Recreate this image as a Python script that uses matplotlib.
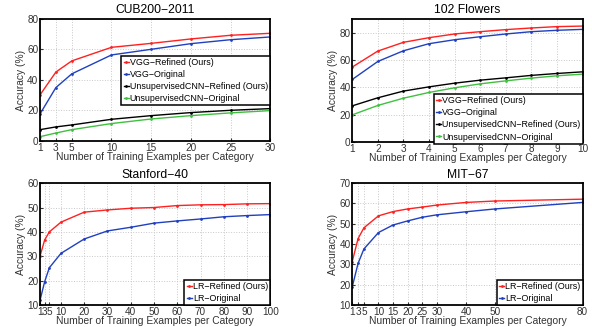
import matplotlib
matplotlib.use('Agg')
import matplotlib.pyplot as plt

# CUB200-2011
cub_x = [1, 3, 5, 10, 15, 20, 25, 30]
cub_vgg_ref = [30.2, 45.2, 52.5, 61.4, 64.0, 66.9, 69.3, 70.6]
cub_vgg_org = [17.7, 35.0, 44.0, 56.4, 60.1, 63.8, 66.4, 68.2]
cub_uns_ref = [7.4, 9.2, 10.5, 14.2, 16.6, 18.6, 20.1, 21.2]
cub_uns_org = [2.8, 5.2, 7.4, 11.4, 14.4, 16.6, 18.4, 19.9]

# 102 Flowers
flw_x = [1, 2, 3, 4, 5, 6, 7, 8, 9, 10]
flw_vgg_ref = [54.8, 66.5, 72.9, 76.3, 79.0, 80.7, 82.2, 83.4, 84.4, 84.8]
flw_vgg_org = [45.7, 58.9, 66.7, 71.9, 74.8, 77.0, 79.0, 80.7, 81.7, 82.4]
flw_uns_ref = [26.4, 32.3, 37.2, 40.3, 43.0, 45.2, 46.9, 48.7, 50.1, 51.3]
flw_uns_org = [19.8, 26.7, 32.0, 36.2, 39.6, 42.5, 44.7, 46.7, 48.4, 49.6]

# Stanford-40
stf_x = [1, 3, 5, 10, 20, 30, 40, 50, 60, 70, 80, 90, 100]
stf_ref = [30.1, 36.7, 40.0, 44.0, 48.1, 49.0, 49.7, 50.0, 50.8, 51.1, 51.2, 51.5, 51.6]
stf_org = [12.0, 19.6, 25.3, 31.2, 37.1, 40.4, 41.9, 43.6, 44.5, 45.3, 46.2, 46.7, 47.1]

# MIT-67
mit_x = [1, 3, 5, 10, 15, 20, 25, 30, 40, 50, 80]
mit_ref = [31.4, 42.7, 48.0, 53.9, 56.0, 57.3, 58.2, 59.2, 60.5, 61.2, 62.1]
mit_org = [19.0, 30.5, 37.6, 45.7, 49.4, 51.4, 53.2, 54.4, 55.9, 57.3, 60.5]

plt.rcParams.update({
    'font.family': ['Liberation Sans', 'DejaVu Sans'],
    'axes.linewidth': 1.3,
    'axes.edgecolor': 'black',
    'xtick.direction': 'in',
    'ytick.direction': 'in',
    'xtick.major.size': 2,
    'ytick.major.size': 2,
    'xtick.labelsize': 7.2,
    'ytick.labelsize': 7.2,
})

RED = '#ff2020'
BLUE = '#2040c0'
BLACK = 'black'
GREEN = '#40c040'

fig = plt.figure(figsize=(5.92, 3.27), dpi=100, facecolor='white')
ax1 = fig.add_axes([0.0676, 0.569, 0.389, 0.373])
ax2 = fig.add_axes([0.595, 0.566, 0.389, 0.376])
ax3 = fig.add_axes([0.0676, 0.067, 0.389, 0.373])
ax4 = fig.add_axes([0.595, 0.067, 0.389, 0.373])


def line(ax, x, y, c, label):
    ax.plot(x, y, color=c, linewidth=1.0, marker='o', markersize=2,
            markeredgewidth=0, label=label)


def style(ax, title, xlim, ylim, xticks, yticks, legend_kw):
    ax.set_xlim(*xlim)
    ax.set_ylim(*ylim)
    ax.set_xticks(xticks)
    ax.set_yticks(yticks)
    ax.tick_params(pad=1.2, colors='#333333', labelcolor='#333333')
    ax.grid(True, color='#c8c8c8', linestyle=':', linewidth=0.7)
    ax.set_title(title, fontsize=8.7, pad=4)
    ax.set_xlabel('Number of Training Examples per Category', fontsize=7.4, labelpad=-0.5, color='#333333')
    ax.set_ylabel('Accuracy (%)', fontsize=7.4, labelpad=1, color='#333333')
    leg = ax.legend(fontsize=6.4, handlelength=0.6, handletextpad=0.1,
                    borderpad=0.25, labelspacing=0.35, borderaxespad=0,
                    fancybox=False, edgecolor='black', framealpha=1,
                    **legend_kw)
    leg.get_frame().set_linewidth(1.1)


line(ax1, cub_x, cub_vgg_ref, RED, 'VGG−Refined (Ours)')
line(ax1, cub_x, cub_vgg_org, BLUE, 'VGG−Original')
line(ax1, cub_x, cub_uns_ref, BLACK, 'UnsupervisedCNN−Refined (Ours)')
line(ax1, cub_x, cub_uns_org, GREEN, 'UnsupervisedCNN−Original')
style(ax1, 'CUB200−2011', (1, 30), (0, 80), [1, 3, 5, 10, 15, 20, 25, 30],
      [0, 20, 40, 60, 80], dict(loc='upper right', bbox_to_anchor=(1.0, 0.70)))

line(ax2, flw_x, flw_vgg_ref, RED, 'VGG−Refined (Ours)')
line(ax2, flw_x, flw_vgg_org, BLUE, 'VGG−Original')
line(ax2, flw_x, flw_uns_ref, BLACK, 'UnsupervisedCNN−Refined (Ours)')
line(ax2, flw_x, flw_uns_org, GREEN, 'UnsupervisedCNN−Original')
style(ax2, '102 Flowers', (1, 10), (0, 90), list(range(1, 11)),
      [0, 20, 40, 60, 80], dict(loc='lower right', bbox_to_anchor=(1.0, -0.015)))

line(ax3, stf_x, stf_ref, RED, 'LR−Refined (Ours)')
line(ax3, stf_x, stf_org, BLUE, 'LR−Original')
style(ax3, 'Stanford−40', (1, 100), (10, 60), [1, 3, 5, 10, 20, 30, 40, 50, 60, 70, 80, 90, 100],
      [10, 20, 30, 40, 50, 60], dict(loc='lower right', bbox_to_anchor=(1.0, 0.0)))

line(ax4, mit_x, mit_ref, RED, 'LR−Refined (Ours)')
line(ax4, mit_x, mit_org, BLUE, 'LR−Original')
style(ax4, 'MIT−67', (1, 80), (10, 70), [1, 3, 5, 10, 15, 20, 25, 30, 40, 50, 80],
      [10, 20, 30, 40, 50, 60, 70], dict(loc='lower right', bbox_to_anchor=(1.0, 0.0)))

fig.savefig('out.png', dpi=100, facecolor='white')
